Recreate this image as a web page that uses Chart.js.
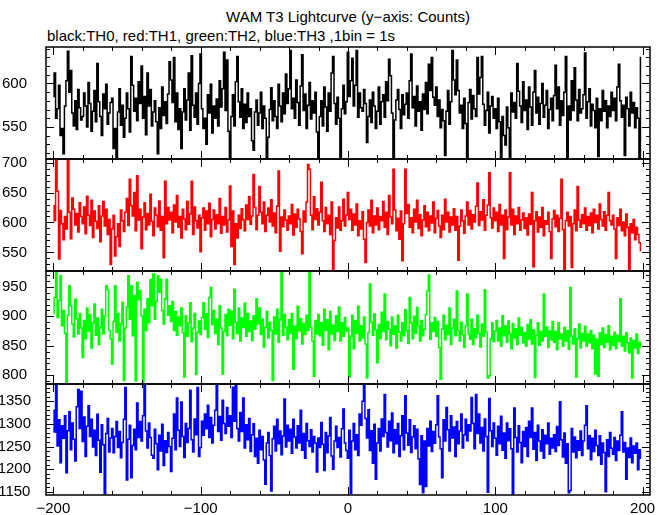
<!DOCTYPE html>
<html>
<head>
<meta charset="utf-8">
<script src="https://cdn.jsdelivr.net/npm/chart.js@4.4.0/dist/chart.umd.min.js"></script>
<style>
body { margin: 0; background: #fff; width: 669px; height: 515px; position: relative; overflow: hidden; font-family: "Liberation Sans", Arial, sans-serif; }
canvas { position: absolute; left: 0; }
.t { position: absolute; font-size: 15px; line-height: 17px; color: #000; white-space: nowrap; }
</style>
</head>
<body>
<div class="t" style="left:0;width:696px;text-align:center;top:8px">WAM T3 Lightcurve (y−axis: Counts)</div>
<div class="t" style="left:47px;top:27px">black:TH0, red:TH1, green:TH2, blue:TH3 ,1bin = 1s</div>
<canvas id="c0" width="669" height="116" style="top:45px"></canvas>
<canvas id="c1" width="669" height="116" style="top:157px"></canvas>
<canvas id="c2" width="669" height="117" style="top:269px"></canvas>
<canvas id="c3" width="669" height="133" style="top:382px"></canvas>
<script>
// first bin time, 1bin = 1s
const tStart = -200;

// TH0 (black)
const th0 = [
585,612,560,571,598,540,548,519,574,603,637,590,615,566,551,580,547,593,572,558,
562,589,574,550,601,577,545,568,592,556,623,579,562,540,588,571,599,553,566,578,
583,525,548,515,567,594,552,575,538,560,589,571,544,631,598,568,583,557,602,577,
620,560,585,541,612,574,593,551,567,580,556,519,572,548,596,563,579,554,588,625,
604,578,630,556,589,547,571,525,567,594,558,581,612,546,632,575,561,589,553,600,
634,571,548,560,530,587,566,599,543,574,560,582,551,603,573,594,636,569,627,545,
513,562,587,551,602,631,579,561,594,548,576,555,589,562,571,534,523,567,581,552,
566,590,548,574,560,513,538,570,595,557,580,562,548,599,574,556,589,565,611,577,
594,638,571,583,560,604,578,552,597,633,569,588,548,575,601,559,580,566,590,544,
515,562,580,551,596,573,545,589,568,612,631,577,553,584,560,514,571,598,565,579,
636,585,603,629,574,598,638,561,589,572,568,593,577,532,562,581,555,590,574,548,
568,596,553,579,587,561,602,580,628,609,566,513,558,581,593,570,548,587,564,576,
589,560,603,634,572,585,551,597,568,579,546,588,570,601,565,622,592,630,584,575,
596,562,581,549,570,557,517,568,592,553,579,638,604,587,627,592,566,575,548,583,
554,514,578,593,559,586,571,562,630,588,607,631,576,552,569,590,543,574,585,560,
571,548,583,556,515,562,540,529,573,549,514,589,567,578,560,623,591,574,555,602,
569,581,547,596,573,552,590,615,566,584,553,577,600,561,575,592,548,570,583,557,
586,621,571,596,552,580,563,590,631,514,574,558,603,569,618,581,557,593,566,571,
587,635,560,579,594,551,576,569,549,583,516,571,557,592,568,580,549,574,562,590,
569,583,557,596,622,580,561,575,517,584,571,551,590,566,578,549,572,560,514,630
];

// TH1 (red)
const th1 = [
628,603,706,652,539,620,598,571,610,589,706,617,573,641,622,596,615,584,633,610,
598,626,581,644,612,595,637,575,619,602,590,628,568,611,635,594,622,580,605,530,
589,612,544,576,598,560,621,603,585,617,640,595,672,628,611,650,586,678,604,622,
556,609,633,588,615,596,647,602,578,624,612,593,636,587,610,541,669,598,625,604,
617,583,629,601,645,592,610,574,622,606,588,635,597,614,669,580,626,603,591,612,
551,608,624,587,619,598,632,576,605,621,589,613,598,640,582,610,596,625,584,604,
661,560,619,530,598,574,612,590,623,604,586,629,605,643,597,611,680,625,588,612,
660,617,598,634,585,612,624,601,638,594,616,583,627,686,552,609,593,621,604,587,
611,598,630,579,614,592,622,606,585,548,619,601,634,697,689,612,588,643,605,623,
596,617,667,603,585,625,598,612,580,634,519,570,608,591,626,587,603,639,594,612,
650,605,622,587,614,596,631,578,603,589,618,572,533,600,621,594,637,583,611,596,
624,588,610,603,635,592,617,580,645,609,598,689,621,586,607,572,619,536,598,689,
615,630,592,608,583,622,601,637,590,613,578,604,628,593,617,586,611,599,634,583,
607,620,594,575,612,588,639,601,617,584,609,596,623,587,610,537,594,621,603,582,
611,634,596,620,589,613,601,627,666,595,618,604,638,587,612,629,683,608,591,624,
603,617,585,630,596,612,540,621,588,609,683,596,622,580,611,598,625,587,604,616,
590,608,579,614,597,650,526,603,618,584,609,592,625,578,603,597,617,585,540,606,
620,593,612,585,607,672,588,522,603,617,594,610,525,598,621,586,660,604,592,613,
598,624,587,610,595,616,583,622,600,612,589,631,605,594,618,587,612,650,603,596,
612,589,540,608,595,622,586,601,578,614,592,522,598,583,605,571,592,580,566,553
];

// TH2 (green)
const th2 = [
905,932,975,898,927,969,884,910,871,788,902,952,918,887,865,929,896,870,905,880,
830,893,862,914,875,903,846,889,921,868,897,852,882,912,870,900,952,945,876,862,
819,891,952,873,905,858,887,924,791,880,916,969,895,952,867,935,790,958,928,944,
901,785,912,876,930,889,962,918,972,895,925,969,941,963,910,887,930,963,902,918,
891,925,876,908,868,899,884,914,872,797,901,866,889,923,857,880,905,801,873,892,
869,898,923,878,905,864,932,949,886,910,871,895,852,918,880,802,874,903,867,912,
885,909,862,946,890,871,914,858,897,881,922,866,905,874,892,859,901,878,930,887,
914,869,895,848,881,908,863,890,876,791,899,870,912,856,894,975,868,903,882,860,
894,871,905,810,883,862,917,875,896,853,888,869,902,876,975,881,858,798,893,870,
903,867,889,851,912,876,894,843,908,870,885,859,901,874,916,858,889,866,898,875,
880,797,866,902,845,893,871,917,858,884,863,899,853,795,872,955,890,868,904,877,
821,886,862,907,874,938,860,891,878,850,899,869,884,846,902,873,858,889,867,911,
876,854,932,889,862,900,871,915,884,858,893,867,878,903,943,970,861,889,874,898,
866,891,847,793,878,902,860,885,869,914,852,880,895,867,943,876,858,890,869,847,
884,938,870,861,895,852,879,864,902,871,848,887,866,945,873,795,799,862,889,857,
875,893,858,880,849,901,867,884,856,892,870,845,888,863,879,852,897,868,881,855,
872,849,886,861,894,853,877,796,868,889,851,874,858,938,866,882,847,875,860,891,
856,874,843,889,862,870,849,881,858,876,844,949,866,853,879,797,862,887,846,871,
858,883,849,870,855,876,845,868,802,861,798,872,852,880,847,869,856,884,843,866,
851,873,845,868,857,930,849,866,841,872,855,838,863,795,859,846,870,837,856,848
];

// TH3 (blue)
const th3 = [
1330,1282,1388,1251,1309,1214,1296,1268,1318,1192,1285,1327,1243,1302,1266,1218,1338,1376,1290,1372,
1261,1315,1228,1295,1340,1272,1310,1249,1286,1230,1321,1264,1193,1298,1254,1146,1279,1312,1238,1269,
1290,1236,1272,1305,1248,1283,1225,1259,1310,1380,1176,1266,1297,1181,1252,1288,1243,1346,1270,1305,
1262,1318,1388,1284,1247,1302,1270,1231,1224,1288,1256,1199,1275,1240,1299,1208,1263,1237,1281,1250,
1195,1268,1322,1243,1357,1286,1250,1348,1272,1226,1301,1259,1290,1374,1265,1238,1311,1276,1380,1228,
1248,1306,1275,1322,1289,1341,1270,1314,1258,1297,1330,1388,1283,1316,1264,1352,1301,1279,1336,1295,
1318,1270,1381,1306,1388,1290,1262,1325,1283,1357,1247,1298,1265,1312,1239,1276,1300,1228,1268,1213,
1286,1243,1272,1220,1167,1258,1281,1230,1152,1267,1295,1240,1310,1256,1284,1232,1273,1355,1249,1297,
1262,1288,1235,1310,1271,1247,1296,1258,1330,1242,1279,1224,1301,1263,1250,1287,1238,1272,1258,1194,
1269,1248,1303,1255,1197,1281,1236,1273,1314,1229,1200,1262,1295,1248,1270,1227,1289,1333,1258,1241,
1224,1286,1147,1262,1301,1243,1276,1230,1322,1297,1350,1388,1312,1269,1331,1241,1285,1213,1299,1178,
1258,1290,1240,1311,1272,1365,1281,1249,1306,1263,1324,1236,1287,1256,1301,1228,1274,1318,1243,1362,
1280,1253,1309,1237,1271,1296,1245,1288,1223,1166,1274,1148,1262,1162,1290,1251,1306,1239,1283,1257,
1298,1362,1271,1245,1181,1309,1262,1336,1287,1240,1318,1269,1293,1228,1305,1256,1284,1322,1247,1276,
1310,1263,1298,1284,1358,1301,1245,1365,1279,1322,1258,1292,1240,1311,1272,1149,1356,1285,1250,1302,
1268,1231,1295,1256,1317,1242,1280,1224,1302,1263,1289,1245,1146,1335,1270,1238,1296,1259,1214,1283,
1250,1292,1228,1306,1270,1335,1244,1281,1219,1297,1262,1240,1287,1224,1275,1256,1302,1233,1268,1247,
1276,1239,1294,1252,1349,1265,1227,1280,1213,1256,1148,1153,1290,1238,1271,1225,1263,1242,1284,1230,
1262,1297,1340,1245,1274,1221,1268,1239,1286,1252,1230,1274,1211,1258,1237,1150,1265,1228,1281,1246,
1233,1270,1219,1262,1241,1275,1327,1238,1259,1178,1247,1226,1269,1214,1251,1235,1258,1199,1243,1224
];

// tick labels
const xTickLabels = [-200, -100, 0, 100, 200];
const th0Ticks = [550, 600];
const th1Ticks = [550, 600, 650, 700];
const th2Ticks = [800, 850, 900, 950];
const th3Ticks = [1150, 1200, 1250, 1300, 1350];

const FONT = { family: '"Liberation Sans", Arial, sans-serif', size: 15 };

const panels = [
    { id: 'c0', data: th0, color: '#000000', min: 513, max: 642, ticks: th0Ticks, pad: 11 },
    { id: 'c1', data: th1, color: '#ff0000', min: 519, max: 706, ticks: th1Ticks, pad: 11 },
    { id: 'c2', data: th2, color: '#00ff00', min: 785, max: 977, ticks: th2Ticks, pad: 11 },
    { id: 'c3', data: th3, color: '#0000ff', min: 1143, max: 1388, ticks: th3Ticks, pad: 7 }
];

// frame with inward ticks on all four sides
const frameTicks = {
    id: 'frameTicks',
    afterDraw(chart) {
        const { ctx, chartArea: a, scales: { x, y } } = chart;
        ctx.save();
        ctx.strokeStyle = '#000';
        ctx.lineWidth = 1;
        ctx.beginPath();
        for (let v = -200; v <= 200; v += 20) {
            const px = Math.round(x.getPixelForValue(v)) + 0.5;
            const len = v % 100 === 0 ? 8 : 4;
            ctx.moveTo(px, a.top); ctx.lineTo(px, a.top + len);
            ctx.moveTo(px, a.bottom); ctx.lineTo(px, a.bottom - len);
        }
        for (let v = Math.ceil(y.min / 10) * 10; v <= y.max; v += 10) {
            const py = Math.round(y.getPixelForValue(v)) + 0.5;
            const len = v % 50 === 0 ? 8 : 4;
            ctx.moveTo(a.left, py); ctx.lineTo(a.left + len, py);
            ctx.moveTo(a.right, py); ctx.lineTo(a.right - len, py);
        }
        ctx.stroke();
        ctx.lineWidth = 1.5;
        ctx.strokeRect(a.left, a.top, a.right - a.left, a.bottom - a.top);
        ctx.restore();
    }
};

panels.forEach((p, k) => {
    const last = k === panels.length - 1;
    new Chart(document.getElementById(p.id), {
        type: 'line',
        data: {
            datasets: [{
                data: p.data.map((v, i) => ({ x: tStart + i, y: v })),
                borderColor: p.color,
                borderWidth: 1.5,
                pointRadius: 0,
                stepped: 'middle',
                fill: false
            }]
        },
        options: {
            responsive: false,
            animation: false,
            events: [],
            layout: { padding: { top: 2, bottom: last ? 0 : 2, left: 0, right: 19 } },
            plugins: { legend: { display: false }, tooltip: { enabled: false } },
            scales: {
                x: {
                    type: 'linear',
                    min: -205,
                    max: 205,
                    display: last,
                    grid: { display: false, drawTicks: false },
                    border: { display: false },
                    afterBuildTicks: s => { s.ticks = xTickLabels.map(v => ({ value: v })); },
                    afterFit: s => {
                        s.height = last ? 20 : 0;
                        s.paddingLeft = 0;
                        s.paddingRight = 0;
                    },
                    ticks: {
                        padding: 5,
                        color: '#000',
                        font: FONT,
                        maxRotation: 0,
                        autoSkip: false,
                        callback: v => String(v).replace('-', '\u2212')
                    }
                },
                y: {
                    type: 'linear',
                    min: p.min,
                    max: p.max,
                    grid: { display: false },
                    border: { display: false },
                    afterBuildTicks: s => { s.ticks = p.ticks.map(v => ({ value: v })); },
                    afterFit: s => { s.width = 46; s.paddingTop = 0; s.paddingBottom = 0; },
                    ticks: {
                        padding: p.pad,
                        crossAlign: 'center',
                        color: '#000',
                        font: FONT,
                        callback: v => String(v)
                    }
                }
            }
        },
        plugins: [frameTicks]
    });
});
</script>
</body>
</html>
